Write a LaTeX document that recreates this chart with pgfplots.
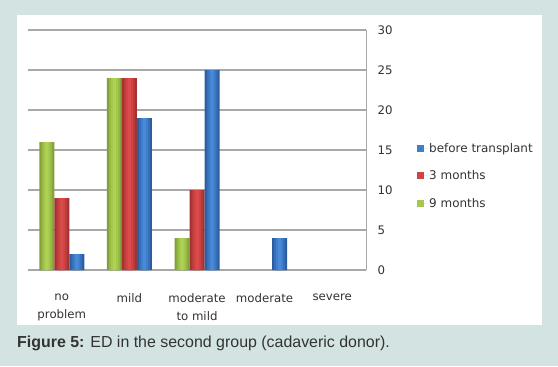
\documentclass[border=0pt]{standalone}
\usepackage{pgfplots}
\usepackage{pgfplotstable}
\pgfplotsset{compat=1.18}
\usepackage{fontspec}
\setmainfont{DejaVu Sans}
\newfontfamily\capfont{Liberation Sans}
\definecolor{bgteal}{HTML}{D3E3E2}
\definecolor{gridc}{HTML}{A8A8A8}
\definecolor{txt}{HTML}{333333}
\definecolor{gA}{HTML}{82A038}\definecolor{gB}{HTML}{95B743}\definecolor{gC}{HTML}{A4C74C}\definecolor{gD}{HTML}{AED354}
\definecolor{rA}{HTML}{A23232}\definecolor{rB}{HTML}{BC3C3C}\definecolor{rC}{HTML}{CE4444}\definecolor{rD}{HTML}{DA4C4C}
\definecolor{bA}{HTML}{2B5D9F}\definecolor{bB}{HTML}{356FBA}\definecolor{bC}{HTML}{3F7ECA}\definecolor{bD}{HTML}{4A8AD6}
\pgfplotstableread{
cat g r b
0 16 9 2
1 24 24 19
2 4 10 25
3 0 0 4
4 0 0 0
}\data
\newcommand\layer[4]{\addplot[ybar, forget plot, draw=none, fill=#1, bar width=#2, bar shift=#3] table[x=cat,y=#4]{\data};}
\newcommand\series[6]{\layer{#1}{15bp}{#6}{#5}\layer{#2}{11bp}{#6}{#5}\layer{#3}{7bp}{#6}{#5}\layer{#4}{3bp}{#6}{#5}}
\begin{document}
\begin{tikzpicture}[x=1bp,y=1bp]
\useasboundingbox (0,0) rectangle (558,366);
\fill[bgteal] (0,0) rectangle (558,366);
\fill[white] (17,41) rectangle (542,351);
\begin{axis}[
  at={(28bp,96bp)}, anchor=south west,
  scale only axis, width=338bp, height=240bp,
  xmin=-0.5, xmax=4.5, ymin=0, ymax=30,
  axis x line=bottom, axis y line=right,
  axis line style={-, draw=gridc, line width=1bp},
  ymajorgrids, grid style={draw=gridc, line width=1.1bp},
  ytick={0,5,...,30},
  xtick={0,1,2,3,4},
  xticklabels={no\\problem, mild, moderate\\to mild, moderate, severe},
  major tick length=0pt,
  /pgf/number format/assume math mode=true,
  ticklabel style={font=\fontsize{11.8}{18}\selectfont, text=txt},
  xticklabel style={align=center, anchor=north, yshift=-20bp},
  yticklabel style={anchor=west, xshift=8bp},
  unbounded coords=discard,
  y filter/.expression={y==0 ? nan : y},
  legend style={draw=none, fill=none, at={(1.151,0.392)}, anchor=west,
    font=\fontsize{12}{14}\selectfont, text=txt, row sep=13bp, inner sep=0pt},
  legend cell align=left,
  legend image code/.code={\fill[#1] (0bp,-3.5bp) rectangle (7bp,3.5bp); \path (0bp,0bp) -- (10bp,0bp);},
]
\series{gA}{gB}{gC}{gD}{g}{-15bp}
\series{rA}{rB}{rC}{rD}{r}{0bp}
\series{bA}{bB}{bC}{bD}{b}{15bp}
\addlegendimage{fill=bC, draw=none}\addlegendentry{before transplant}
\addlegendimage{fill=rC, draw=none}\addlegendentry{3 months}
\addlegendimage{fill=gC, draw=none}\addlegendentry{9 months}
\end{axis}
\node[anchor=west, inner sep=0pt, text=txt, font=\capfont\fontsize{16}{18}\selectfont] at (17,23) {\textbf{Figure 5:} ED in the second group (cadaveric donor).};
\end{tikzpicture}
\end{document}
